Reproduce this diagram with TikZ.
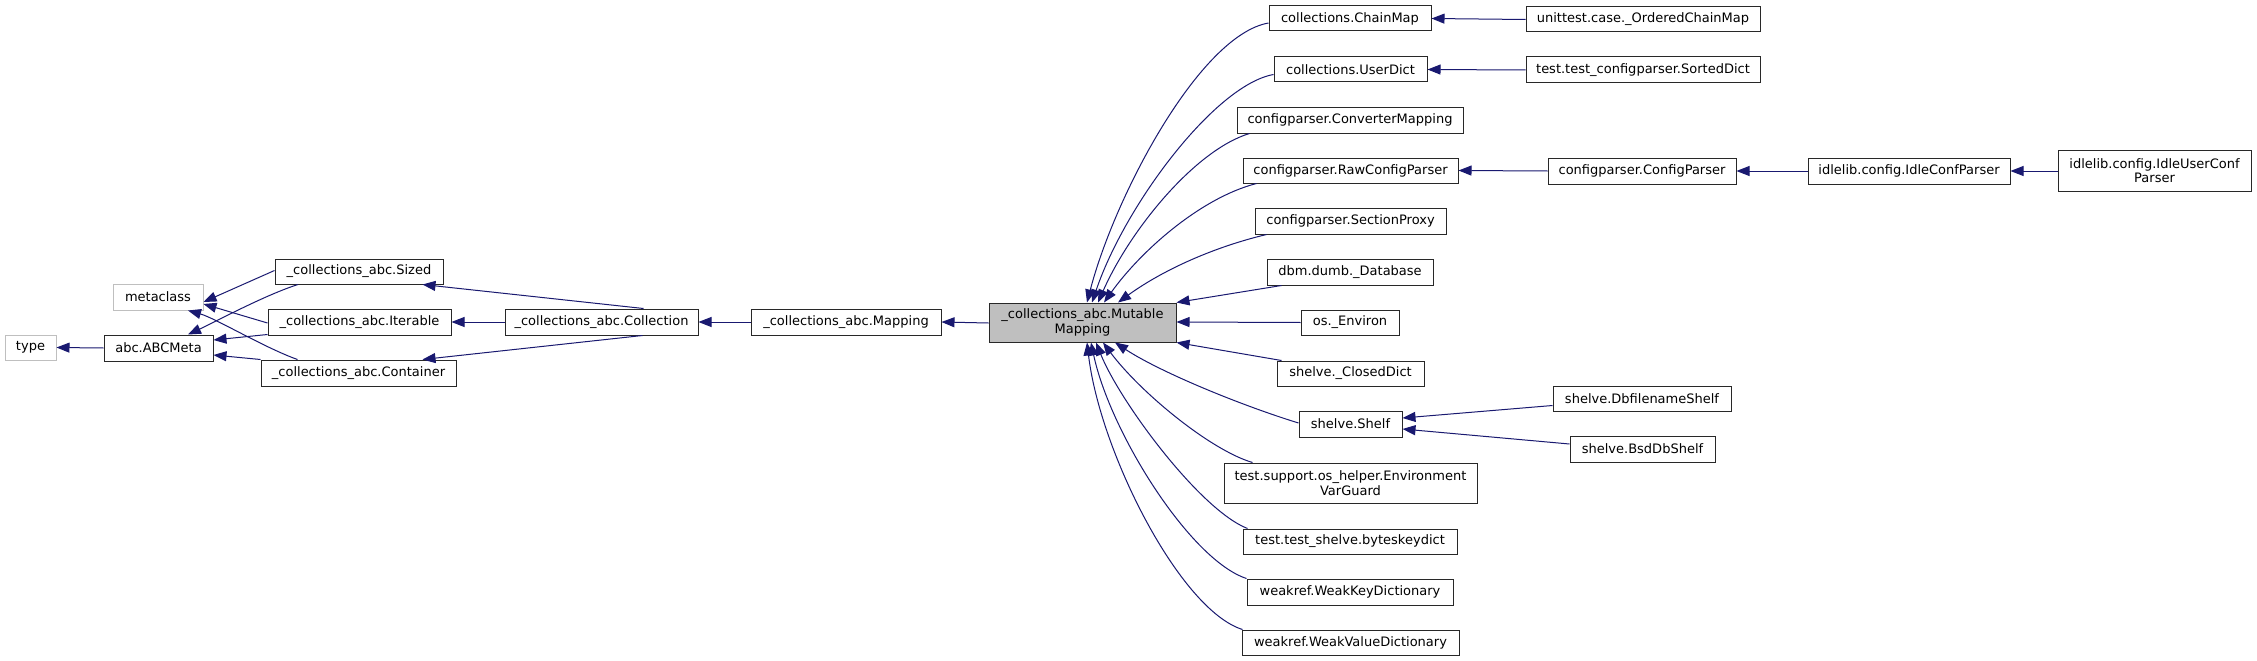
\documentclass[tikz,border=0pt]{standalone}
\usepackage{fontspec}
\setmainfont{DejaVu Sans}
\usetikzlibrary{arrows.meta}
\definecolor{edgeblue}{RGB}{25,25,112}
\definecolor{lightgraybd}{RGB}{191,191,191}
\definecolor{mainfill}{RGB}{191,191,191}
\definecolor{boxbd}{RGB}{40,40,40}
\newcommand\bx[7][]{\node[box,#1,minimum width={(#5-#3)*1pt},minimum height={(#6-#4)*1pt}] (#2) at ({(#3+#5)/2},{(#4+#6)/2}) {#7};}
\begin{document}
\begin{tikzpicture}[x=1pt,y=-1pt,
  box/.style={draw=boxbd,line width=1pt,fill=white,inner sep=0pt,align=center,font=\fontsize{13}{14.5}\selectfont},
  ext/.style={draw=lightgraybd},
  mainnode/.style={fill=mainfill},
  edge/.style={draw=edgeblue,line width=1pt,-{Triangle[length=13pt,width=10pt]}}]
\useasboundingbox[fill=white] (0,0) rectangle (2257,661);
% left part
\bx[ext]{type}{5}{335}{56}{360}{type}
\bx{abcmeta}{104}{335}{213}{361}{abc.ABCMeta}
\bx[ext]{metaclass}{113}{284}{203}{310}{metaclass}
\bx{sized}{275}{259}{443}{284}{\_collections\_abc.Sized}
\bx{iterable}{268}{309}{451}{335}{\_collections\_abc.Iterable}
\bx{container}{261}{360}{456}{386}{\_collections\_abc.Container}
\bx{collection}{505}{309}{698}{335}{\_collections\_abc.Collection}
\bx{mapping}{751}{309}{941}{335}{\_collections\_abc.Mapping}
\bx[mainnode]{mm}{989}{303}{1176}{342}{\_collections\_abc.Mutable\\Mapping}
% children of MutableMapping
\bx{chainmap}{1269}{6}{1431}{31}{collections.ChainMap}
\bx{userdict}{1274}{57}{1427}{82}{collections.UserDict}
\bx{convmap}{1237}{107}{1463}{133}{configparser.ConverterMapping}
\bx{rawcp}{1243}{158}{1458}{183}{configparser.RawConfigParser}
\bx{secproxy}{1255}{208}{1446}{234}{configparser.SectionProxy}
\bx{dbm}{1267}{259}{1433}{285}{dbm.dumb.\_Database}
\bx{environ}{1301}{310}{1399}{335}{os.\_Environ}
\bx{closed}{1277}{361}{1424}{386}{shelve.\_ClosedDict}
\bx{shelf}{1299}{411}{1402}{437}{shelve.Shelf}
\bx{envguard}{1224}{463}{1477}{503}{test.support.os\_helper.Environment\\VarGuard}
\bx{bytesdict}{1243}{529}{1457}{554}{test.test\_shelve.byteskeydict}
\bx{weakkey}{1247}{579}{1453}{605}{weakref.WeakKeyDictionary}
\bx{weakval}{1242}{630}{1459}{655}{weakref.WeakValueDictionary}
% far right
\bx{ordchain}{1526}{7}{1760}{32}{unittest.case.\_OrderedChainMap}
\bx{sorted}{1526}{57}{1760}{83}{test.test\_configparser.SortedDict}
\bx{configp}{1548}{158}{1736}{184}{configparser.ConfigParser}
\bx{idleconf}{1808}{158}{2010}{184}{idlelib.config.IdleConfParser}
\bx{idleuser}{2058}{150}{2251}{191}{idlelib.config.IdleUserConf\\Parser}
\bx{dbfile}{1553}{386}{1731}{411}{shelve.DbfilenameShelf}
\bx{bsddb}{1570}{436}{1715}{462}{shelve.BsdDbShelf}
% edges, left
\draw[edge] (abcmeta.west) -- (type.east);
\draw[edge] ([yshift=1pt]sized.west) -- ([yshift=-5pt]metaclass.east);
\draw[edge] ([yshift=-1pt]iterable.west) -- ([yshift=-7pt]metaclass.east);
\draw[edge] ([xshift=-61pt]container.north) .. controls (265,348) and (215,318) .. ([xshift=30pt]metaclass.south);
\draw[edge] ([xshift=-61pt]sized.south) .. controls (265,295) and (215,322) .. ([xshift=29.5pt]abcmeta.north);
\draw[edge] ([yshift=1pt]iterable.south west) -- ([yshift=8pt]abcmeta.east);
\draw[edge] ([yshift=-0pt]container.north west) -- ([yshift=-7pt]abcmeta.east);
\draw[edge] ([xshift=-55pt]collection.north east) -- ([xshift=-21pt]sized.south east);
\draw[edge] (collection.west) -- (iterable.east);
\draw[edge] ([xshift=-56pt]collection.south east) -- ([xshift=-34pt]container.north east);
\draw[edge] (mapping.west) -- (collection.east);
\draw[edge] ([yshift=-0.5pt]mm.west) -- (mapping.east);
% edges to MutableMapping
\draw[edge] ([yshift=-4.5pt]chainmap.west) .. controls (1200,35) and (1115,195) .. ([xshift=4.5pt]mm.north);
\draw[edge] ([yshift=-5pt]userdict.west) .. controls (1215,85) and (1125,205) .. ([xshift=9.5pt]mm.north);
\draw[edge] ([xshift=13pt]convmap.south west) .. controls (1195,150) and (1130,230) .. ([xshift=15.5pt]mm.north);
\draw[edge] ([xshift=14pt]rawcp.south west) .. controls (1200,198) and (1140,252) .. ([xshift=21.5pt]mm.north);
\draw[edge] ([xshift=12pt]secproxy.south west) .. controls (1210,248) and (1160,272) .. ([xshift=35.5pt]mm.north);
\draw[edge] ([xshift=15pt]dbm.south west) -- (mm.north east);
\draw[edge] (environ.west) -- ([yshift=0.5pt]mm.east);
\draw[edge] ([xshift=5pt]closed.north west) -- (mm.south east);
\draw[edge] ([yshift=1pt]shelf.west) .. controls (1240,405) and (1160,372) .. ([xshift=32.5pt]mm.south);
\draw[edge] ([xshift=29pt]envguard.north west) .. controls (1210,450) and (1140,392) .. ([xshift=20.5pt]mm.south);
\draw[edge] ([xshift=5pt]bytesdict.north west) .. controls (1200,510) and (1120,402) .. ([xshift=13.5pt]mm.south);
\draw[edge] ([xshift=0pt]weakkey.north west) .. controls (1190,560) and (1110,432) .. ([xshift=8.5pt]mm.south);
\draw[edge] ([xshift=1pt]weakval.north west) .. controls (1180,610) and (1100,452) .. ([xshift=4.5pt]mm.south);
% right edges
\draw[edge] (ordchain.west) -- (chainmap.east);
\draw[edge] (sorted.west) -- (userdict.east);
\draw[edge] (configp.west) -- (rawcp.east);
\draw[edge] (idleconf.west) -- (configp.east);
\draw[edge] ([yshift=-0.5pt]idleuser.west) -- (idleconf.east);
\draw[edge] ([yshift=-7pt]dbfile.west) -- ([yshift=6pt]shelf.east);
\draw[edge] ([yshift=5pt]bsddb.west) -- ([yshift=-5pt]shelf.east);
\end{tikzpicture}
\end{document}
